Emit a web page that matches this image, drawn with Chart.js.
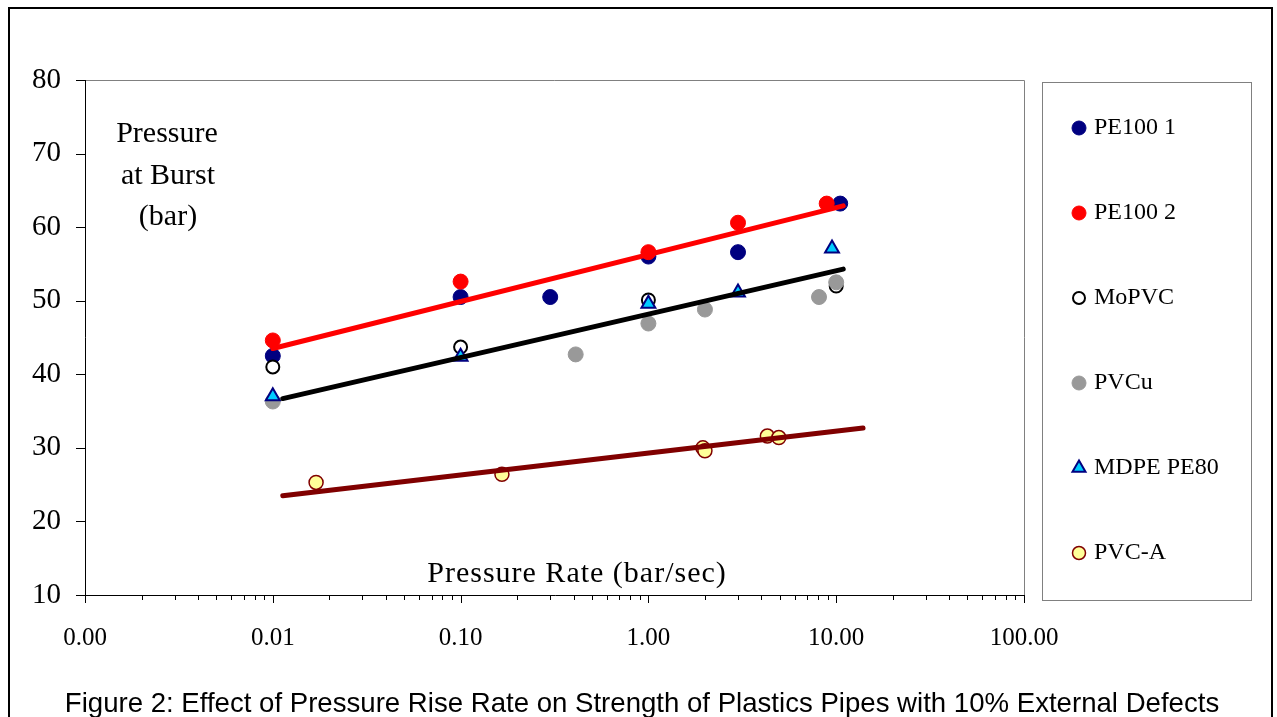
<!DOCTYPE html>
<html>
<head>
<meta charset="utf-8">
<script src="https://cdn.jsdelivr.net/npm/chart.js@4.4.1/dist/chart.umd.min.js"></script>
<style>
  body { margin: 0; background: #fff; width: 1277px; height: 717px; overflow: hidden; position: relative; }
  #chart { position: absolute; left: 0; top: 0; }
  #frame { position: absolute; left: 8px; top: 7px; width: 1265px; height: 760px; border: 2px solid #000; box-sizing: border-box; pointer-events: none; }
  #caption { position: absolute; left: 0; top: 689px; width: 1284px; text-align: center;
             font-family: "Liberation Sans", Arial, sans-serif; font-size: 27.6px; line-height: 27.6px; color: #000; white-space: nowrap; }
</style>
</head>
<body>
<canvas id="chart" width="1277" height="717"></canvas>
<div id="frame"></div>
<div id="caption">Figure 2: Effect of Pressure Rise Rate on Strength of Plastics Pipes with 10% External Defects</div>
<script>
// data: [pressure rate (bar/sec), pressure at burst (bar)]
const seriesNames = ['PE100 1', 'PE100 2', 'MoPVC', 'PVCu', 'MDPE PE80', 'PVC-A'];

const pe100_1 = [[0.01, 42.5], [0.1, 50.5], [0.3, 50.5], [1, 56], [3, 56.6], [10.5, 63.2]];
const pe100_2 = [[0.01, 44.6], [0.1, 52.6], [1, 56.6], [3, 60.6], [8.9, 63.2]];
const moPVC = [[0.01, 41], [0.1, 43.7], [1, 50.1], [10, 52]];
const pvcu = [[0.01, 36.3], [0.41, 42.7], [1, 46.9], [2, 48.8], [8.1, 50.5], [10, 52.5]];
const mdpe = [[0.01, 37], [0.1, 42.4], [1, 49.6], [3, 51.1], [9.5, 57.1]];
const pvcA = [[0.017, 25.3], [0.166, 26.4], [1.95, 30], [2.0, 29.6], [4.3, 31.6], [4.95, 31.4]];

// trend lines (straight on the log axis), end points
const trendRed = [[0.01, 43.5], [10.9, 62.9]];
const trendBlack = [[0.0113, 36.7], [10.9, 54.3]];
const trendBrown = [[0.0113, 23.5], [13.9, 32.7]];

const yTicks = [10, 20, 30, 40, 50, 60, 70, 80];
const xDecades = [0.001, 0.01, 0.1, 1, 10, 100];

const toPts = arr => arr.map(p => ({ x: p[0], y: p[1] }));

function markerSet(label, data, style, radius, bg, border, bw, order) {
    return {
        label: label, data: toPts(data), inLegend: true,
        pointStyle: style, pointRadius: radius, pointBackgroundColor: bg,
        pointBorderColor: border, pointBorderWidth: bw,
        backgroundColor: bg, borderColor: border, borderWidth: bw,
        showLine: false, order: order
    };
}
function trendSet(data, color) {
    return {
        type: 'line', label: '', data: toPts(data), inLegend: false,
        borderColor: color, borderWidth: 5, borderCapStyle: 'round',
        pointRadius: 0, fill: false, showLine: true, order: 0
    };
}

const datasets = [
    markerSet(seriesNames[0], pe100_1, 'circle', 7.5, '#000080', '#000080', 1, 16),
    markerSet(seriesNames[1], pe100_2, 'circle', 7.5, '#ff0000', '#ff0000', 1, 15),
    markerSet(seriesNames[2], moPVC, 'circle', 6.5, '#ffffff', '#000000', 2, 14),
    markerSet(seriesNames[3], pvcu, 'circle', 7.5, '#999999', '#999999', 1, 13),
    markerSet(seriesNames[4], mdpe, 'triangle', 8, '#00ccff', '#000080', 2, 12),
    markerSet(seriesNames[5], pvcA, 'circle', 7, '#ffff99', '#800000', 1.5, 11),
    trendSet(trendRed, '#ff0000'),
    trendSet(trendBlack, '#000000'),
    trendSet(trendBrown, '#800000')
];

function drawMarker(ctx, ds, x, y) {
    const r = ds.pointRadius - 0.5;
    ctx.beginPath();
    if (ds.pointStyle === 'triangle') {
        let a = 0;
        for (let i = 0; i < 3; i++) {
            const px = x + Math.sin(a) * r, py = y - Math.cos(a) * r;
            i === 0 ? ctx.moveTo(px, py) : ctx.lineTo(px, py);
            a += Math.PI * 2 / 3;
        }
        ctx.closePath();
    } else {
        ctx.arc(x, y, r, 0, Math.PI * 2);
    }
    ctx.fillStyle = ds.pointBackgroundColor;
    ctx.fill();
    ctx.lineWidth = ds.pointBorderWidth;
    ctx.strokeStyle = ds.pointBorderColor;
    ctx.stroke();
}

const isDecade = v => Math.abs(Math.log10(v) - Math.round(Math.log10(v))) < 1e-6;

// plot frame and tick marks
const framePlugin = {
    id: 'frame',
    beforeDatasetsDraw(chart) {
        const ctx = chart.ctx;
        const { left, right, top, bottom } = chart.chartArea;
        ctx.save();
        ctx.lineWidth = 1;
        ctx.strokeStyle = '#808080';
        ctx.beginPath();
        ctx.moveTo(left, top + 0.5); ctx.lineTo(right + 0.5, top + 0.5); ctx.lineTo(right + 0.5, bottom);
        ctx.stroke();
        ctx.strokeStyle = '#000';
        ctx.beginPath();
        ctx.moveTo(left + 0.5, top); ctx.lineTo(left + 0.5, bottom + 0.5); ctx.lineTo(right + 1, bottom + 0.5);
        chart.scales.y.ticks.forEach(t => {
            const py = Math.round(chart.scales.y.getPixelForValue(t.value)) + 0.5;
            ctx.moveTo(left - 9, py); ctx.lineTo(left, py);
        });
        chart.scales.x.ticks.forEach(t => {
            const px = Math.round(chart.scales.x.getPixelForValue(t.value)) + 0.5;
            ctx.moveTo(px, bottom); ctx.lineTo(px, bottom + (isDecade(t.value) ? 8 : 5));
        });
        ctx.stroke();
        ctx.restore();
    }
};

// texts inside the plot and the boxed legend on the right
const textPlugin = {
    id: 'texts',
    afterDraw(chart) {
        const ctx = chart.ctx;
        ctx.save();
        ctx.fillStyle = '#000';
        ctx.font = '30px "Liberation Serif"';
        ctx.textAlign = 'center';
        ctx.textBaseline = 'alphabetic';
        ctx.fillText('Pressure', 167, 142);
        ctx.fillText('at Burst', 168, 184);
        ctx.fillText('(bar)', 168, 225);
        if ('letterSpacing' in ctx) ctx.letterSpacing = '1px';
        ctx.fillText('Pressure Rate (bar/sec)', 577, 582);
        if ('letterSpacing' in ctx) ctx.letterSpacing = '0px';

        ctx.strokeStyle = '#808080';
        ctx.lineWidth = 1;
        ctx.strokeRect(1042.5, 82.5, 209, 518);
        ctx.font = '24px "Liberation Serif"';
        ctx.textAlign = 'left';
        chart.data.datasets.filter(d => d.inLegend).forEach((ds, i) => {
            const y = 128 + i * 85;
            drawMarker(ctx, ds, 1079, y);
            ctx.fillStyle = '#000';
            ctx.fillText(ds.label, 1094, y + 6);
        });
        ctx.restore();
    }
};

new Chart(document.getElementById('chart'), {
    type: 'scatter',
    data: { datasets: datasets },
    options: {
        responsive: false,
        animation: false,
        events: [],
        layout: { padding: { left: 25, top: 80, right: 253, bottom: 52 } },
        plugins: { legend: { display: false }, tooltip: { enabled: false } },
        scales: {
            x: {
                type: 'logarithmic', min: 0.001, max: 100,
                grid: { display: false, drawTicks: false }, border: { display: false },
                afterBuildTicks: scale => {
                    const ticks = [];
                    xDecades.forEach((d, i) => {
                        const steps = i < xDecades.length - 1 ? 9 : 1;
                        for (let m = 1; m <= steps; m++) ticks.push({ value: parseFloat((m * d).toPrecision(3)) });
                    });
                    scale.ticks = ticks;
                },
                afterFit: scale => { scale.height = 70; },
                ticks: {
                    autoSkip: false, maxRotation: 0, padding: 28, color: '#000',
                    font: { family: 'Liberation Serif', size: 25 },
                    callback: v => isDecade(v) ? v.toFixed(2) : ''
                }
            },
            y: {
                min: 10, max: 80,
                grid: { display: false, drawTicks: false }, border: { display: false },
                afterBuildTicks: scale => { scale.ticks = yTicks.map(v => ({ value: v })); },
                afterFit: scale => { scale.width = 60; },
                ticks: {
                    padding: 24, color: '#000',
                    font: { family: 'Liberation Serif', size: 29 }
                }
            }
        }
    },
    plugins: [framePlugin, textPlugin]
});
</script>
</body>
</html>
